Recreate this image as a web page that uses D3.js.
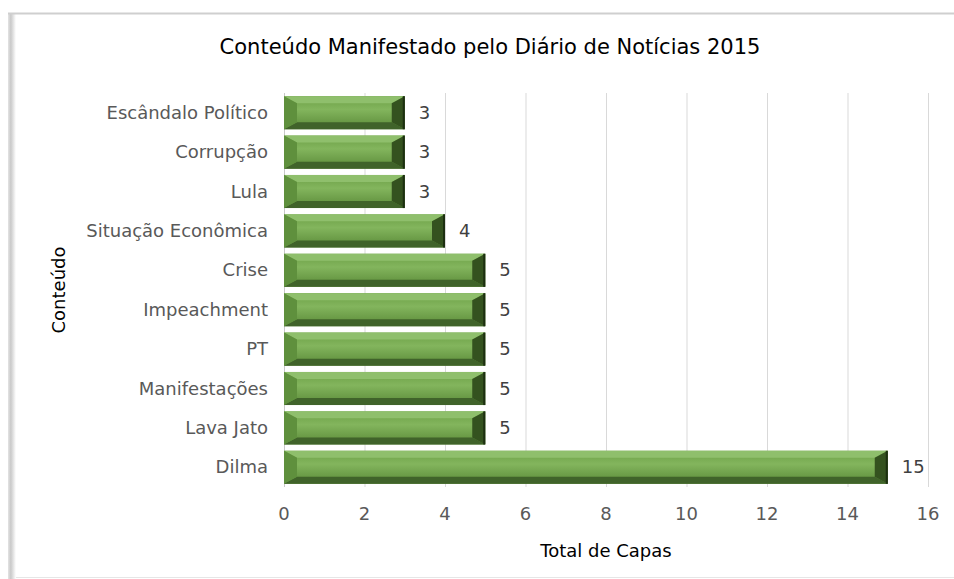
<!DOCTYPE html>
<html lang="pt">
<head>
<meta charset="utf-8">
<title>Conteúdo Manifestado pelo Diário de Notícias 2015</title>
<script src="https://cdn.jsdelivr.net/npm/d3@7"></script>
<style>
  body { margin: 0; background: #fff; }
  svg text { font-family: "DejaVu Sans", sans-serif; }
</style>
</head>
<body>
<div id="chart"></div>
<script>
  // data, top to bottom as drawn
  var categories = ["Escândalo Político", "Corrupção", "Lula", "Situação Econômica", "Crise",
    "Impeachment", "PT", "Manifestações", "Lava Jato", "Dilma"];
  var values = [3, 3, 3, 4, 5, 5, 5, 5, 5, 15];
  var xTicks = [0, 2, 4, 6, 8, 10, 12, 14, 16];

  var W = 954, H = 579;
  var plot = { left: 284, right: 928, top: 93, bottom: 487 };

  var svg = d3.select("#chart").append("svg")
    .attr("width", W).attr("height", H);

  var defs = svg.append("defs");
  var edge = defs.append("linearGradient").attr("id", "edge")
    .attr("x1", 0).attr("x2", 1).attr("y1", 0).attr("y2", 0);
  edge.append("stop").attr("offset", 0).attr("stop-color", "#e4e4e4");
  edge.append("stop").attr("offset", 0.35).attr("stop-color", "#c9c9c9");
  edge.append("stop").attr("offset", 1).attr("stop-color", "#ffffff");

  var face = defs.append("linearGradient").attr("id", "face")
    .attr("x1", 0).attr("x2", 0).attr("y1", 0).attr("y2", 1);
  face.append("stop").attr("offset", 0).attr("stop-color", "#6b9f45");
  face.append("stop").attr("offset", 0.4).attr("stop-color", "#83b55d");
  face.append("stop").attr("offset", 1).attr("stop-color", "#5a8a38");

  // outer frame
  svg.append("rect").attr("x", 8).attr("y", 13).attr("width", 8).attr("height", H - 13)
    .attr("fill", "url(#edge)");
  svg.append("line").attr("x1", 8).attr("x2", W).attr("y1", 13.5).attr("y2", 13.5)
    .attr("stroke", "#cfcfcf").attr("stroke-width", 2);
  svg.append("line").attr("x1", 16).attr("x2", W).attr("y1", 577.5).attr("y2", 577.5)
    .attr("stroke", "#e6e6e6").attr("stroke-width", 1);

  var x = d3.scaleLinear().domain([0, 16]).range([plot.left, plot.right]);
  var y = d3.scaleBand().domain(categories).range([plot.top, plot.bottom])
    .paddingInner(0.16).paddingOuter(0.08);

  // gridlines
  svg.append("g").selectAll("line").data(xTicks).enter().append("line")
    .attr("x1", function (d) { return x(d) + 0.5; })
    .attr("x2", function (d) { return x(d) + 0.5; })
    .attr("y1", plot.top).attr("y2", plot.bottom)
    .attr("stroke", function (d) { return d === 0 ? "#c8c8c8" : "#d9d9d9"; })
    .attr("stroke-width", 1);

  // x tick labels
  svg.append("g").selectAll("text").data(xTicks).enter().append("text")
    .attr("x", function (d) { return x(d); })
    .attr("y", 520)
    .attr("text-anchor", "middle")
    .attr("font-size", 18)
    .attr("fill", "#595959")
    .text(function (d) { return d; });

  // category labels
  svg.append("g").selectAll("text").data(categories).enter().append("text")
    .attr("x", 268)
    .attr("y", function (d) { return y(d) + y.bandwidth() / 2 + 6; })
    .attr("text-anchor", "end")
    .attr("font-size", 18)
    .attr("fill", "#595959")
    .text(function (d) { return d; });

  // bevelled bars
  var bars = svg.append("g").selectAll("g").data(categories).enter().append("g");
  bars.each(function (d, i) {
    var g = d3.select(this);
    var x0 = x(0), x1 = x(values[i]);
    var y0 = y(d), y1 = y(d) + y.bandwidth();
    var dx = 13, dy = 7;
    function poly(pts, fill) {
      g.append("polygon").attr("points", pts.map(function (p) { return p.join(","); }).join(" "))
        .attr("fill", fill);
    }
    g.append("rect").attr("x", x0).attr("y", y0).attr("width", x1 - x0).attr("height", y1 - y0)
      .attr("fill", "url(#face)");
    poly([[x0, y0], [x1, y0], [x1 - dx, y0 + dy], [x0 + dx, y0 + dy]], "#8fbf6c");
    poly([[x0, y1], [x1, y1], [x1 - dx, y1 - dy], [x0 + dx, y1 - dy]], "#40632a");
    poly([[x0, y0], [x0 + dx, y0 + dy], [x0 + dx, y1 - dy], [x0, y1]], "#5f903d");
    poly([[x1, y0], [x1 - dx, y0 + dy], [x1 - dx, y1 - dy], [x1, y1]], "#34521f");
    g.append("rect").attr("x", x1 - 2).attr("y", y0).attr("width", 2).attr("height", y1 - y0)
      .attr("fill", "#1c2f10");
  });

  // value labels
  svg.append("g").selectAll("text").data(categories).enter().append("text")
    .attr("x", function (d, i) { return x(values[i]) + 14; })
    .attr("y", function (d) { return y(d) + y.bandwidth() / 2 + 6; })
    .attr("font-size", 18)
    .attr("fill", "#404040")
    .text(function (d, i) { return values[i]; });

  // titles
  svg.append("text").attr("x", 490).attr("y", 54).attr("text-anchor", "middle")
    .attr("font-size", 21).attr("fill", "#000")
    .text("Conteúdo Manifestado pelo Diário de Notícias 2015");
  svg.append("text").attr("x", 606).attr("y", 557).attr("text-anchor", "middle")
    .attr("font-size", 18).attr("fill", "#000")
    .text("Total de Capas");
  svg.append("text").attr("transform", "translate(65,290) rotate(-90)")
    .attr("text-anchor", "middle")
    .attr("font-size", 18).attr("fill", "#000")
    .text("Conteúdo");
</script>
</body>
</html>
